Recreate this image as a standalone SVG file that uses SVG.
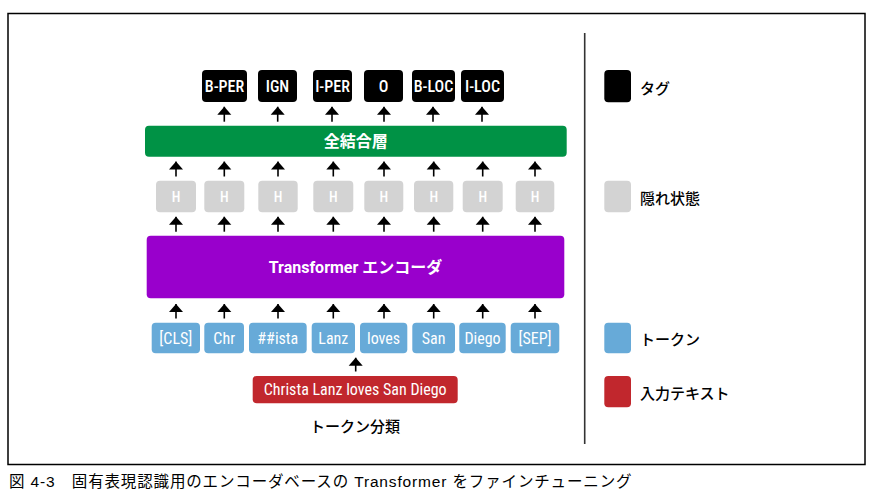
<svg xmlns="http://www.w3.org/2000/svg" width="878" height="504" viewBox="0 0 878 504">
<defs>
<marker id="ah" viewBox="0 0 16 8" refX="8" refY="0" markerWidth="16" markerHeight="8" markerUnits="userSpaceOnUse" orient="0">
<path d="M1,8 L8,0 L15,8 Z" fill="#000"/>
</marker>
<style>
.lbl{font-family:"Liberation Sans Narrow","Roboto Condensed","Roboto","Noto Sans CJK JP",sans-serif;text-anchor:middle;dominant-baseline:central;}
.tag rect{fill:#000;}
.tag text{fill:#fff;font-size:16px;font-weight:500;}
.h rect{fill:#d3d3d3;}
.h text{fill:#fff;font-size:14px;font-weight:500;}
.tok rect{fill:#67aad8;}
.tok text{fill:#fff;font-size:16px;}
.jp{font-family:"Roboto","Noto Sans CJK JP",sans-serif;}
.conn line{stroke:#000;stroke-width:1.6;marker-start:url(#ah);}
.leg text{font-family:"Noto Sans CJK JP",sans-serif;font-size:15px;fill:#000;dominant-baseline:central;font-weight:500;}
</style>
</defs>
<rect x="8" y="13.5" width="857" height="451" fill="none" stroke="#000" stroke-width="1.5"/>
<line x1="584.7" y1="33" x2="584.7" y2="444" stroke="#333" stroke-width="1.6"/>

<g id="tags" class="lbl">
<g id="tag-bper" class="tag"><rect x="202" y="70" width="45" height="32" rx="4"/><text x="224.5" y="86.5">B-PER</text></g>
<g id="tag-ign" class="tag"><rect x="258" y="70" width="39" height="32" rx="4"/><text x="277.5" y="86.5">IGN</text></g>
<g id="tag-iper" class="tag"><rect x="313" y="70" width="39" height="32" rx="4"/><text x="332.5" y="86.5">I-PER</text></g>
<g id="tag-o" class="tag"><rect x="364" y="70" width="39" height="32" rx="4"/><text x="383.5" y="86.5">O</text></g>
<g id="tag-bloc" class="tag"><rect x="412" y="70" width="43" height="32" rx="4"/><text x="433.5" y="86.5">B-LOC</text></g>
<g id="tag-iloc" class="tag"><rect x="461" y="70" width="43" height="32" rx="4"/><text x="482.5" y="86.5">I-LOC</text></g>
</g>

<g id="fc">
<rect x="145" y="125.7" width="421.7" height="31" rx="4" fill="#009245"/>
<text class="jp" x="355.8" y="141.5" fill="#fff" font-size="16" font-weight="bold" text-anchor="middle" dominant-baseline="central">全結合層</text>
</g>

<g id="hidden" class="lbl">
<g id="h1" class="h"><rect x="156" y="180.7" width="40" height="31.6" rx="4"/><text x="176" y="196.5">H</text></g>
<g id="h2" class="h"><rect x="204.3" y="180.7" width="40" height="31.6" rx="4"/><text x="224.3" y="196.5">H</text></g>
<g id="h3" class="h"><rect x="258.3" y="180.7" width="39.4" height="31.6" rx="4"/><text x="278" y="196.5">H</text></g>
<g id="h4" class="h"><rect x="313.3" y="180.7" width="40" height="31.6" rx="4"/><text x="333.3" y="196.5">H</text></g>
<g id="h5" class="h"><rect x="364.3" y="180.7" width="39" height="31.6" rx="4"/><text x="383.8" y="196.5">H</text></g>
<g id="h6" class="h"><rect x="414" y="180.7" width="39.3" height="31.6" rx="4"/><text x="433.7" y="196.5">H</text></g>
<g id="h7" class="h"><rect x="462.7" y="180.7" width="40" height="31.6" rx="4"/><text x="482.7" y="196.5">H</text></g>
<g id="h8" class="h"><rect x="515.7" y="180.7" width="38.6" height="31.6" rx="4"/><text x="535" y="196.5">H</text></g>
</g>

<g id="encoder">
<rect x="146.7" y="235.7" width="417.6" height="62.5" rx="4" fill="#9900cc"/>
<text class="jp" x="355.5" y="267.5" fill="#fff" font-size="16" font-weight="bold" text-anchor="middle" dominant-baseline="central">Transformer エンコーダ</text>
</g>

<g id="tokens" class="lbl">
<g id="t1" class="tok"><rect x="151.7" y="322.7" width="48.3" height="30.6" rx="4"/><text x="175.8" y="338">[CLS]</text></g>
<g id="t2" class="tok"><rect x="204.3" y="322.7" width="39.7" height="30.6" rx="4"/><text x="224.2" y="338">Chr</text></g>
<g id="t3" class="tok"><rect x="249" y="322.7" width="57.7" height="30.6" rx="4"/><text x="277.8" y="338">##ista</text></g>
<g id="t4" class="tok"><rect x="311.7" y="322.7" width="43.3" height="30.6" rx="4"/><text x="333.3" y="338">Lanz</text></g>
<g id="t5" class="tok"><rect x="360" y="322.7" width="47.3" height="30.6" rx="4"/><text x="383.6" y="338">loves</text></g>
<g id="t6" class="tok"><rect x="412.3" y="322.7" width="42.7" height="30.6" rx="4"/><text x="433.6" y="338">San</text></g>
<g id="t7" class="tok"><rect x="459.3" y="322.7" width="46.4" height="30.6" rx="4"/><text x="482.5" y="338">Diego</text></g>
<g id="t8" class="tok"><rect x="510.7" y="322.7" width="48.6" height="30.6" rx="4"/><text x="535" y="338">[SEP]</text></g>
</g>

<g id="input" class="lbl">
<rect x="252.7" y="376" width="205" height="27.3" rx="4" fill="#c1272d"/>
<text x="355.2" y="389.7" fill="#fff" font-size="16">Christa Lanz loves San Diego</text>
</g>

<g id="title">
<text x="355" y="425" font-family="Noto Sans CJK JP,sans-serif" font-size="15" font-weight="500" text-anchor="middle" dominant-baseline="central">トークン分類</text>
</g>

<g id="connectors" class="conn">
<line x1="224.3" y1="106.7" x2="224.3" y2="121.7"/>
<line x1="277.7" y1="106.7" x2="277.7" y2="121.7"/>
<line x1="332" y1="106.7" x2="332" y2="121.7"/>
<line x1="384" y1="106.7" x2="384" y2="121.7"/>
<line x1="433" y1="106.7" x2="433" y2="121.7"/>
<line x1="482" y1="106.7" x2="482" y2="121.7"/>

<line x1="176" y1="161.5" x2="176" y2="176.5"/>
<line x1="224.3" y1="161.5" x2="224.3" y2="176.5"/>
<line x1="278" y1="161.5" x2="278" y2="176.5"/>
<line x1="333.3" y1="161.5" x2="333.3" y2="176.5"/>
<line x1="384" y1="161.5" x2="384" y2="176.5"/>
<line x1="433.7" y1="161.5" x2="433.7" y2="176.5"/>
<line x1="482.7" y1="161.5" x2="482.7" y2="176.5"/>
<line x1="535" y1="161.5" x2="535" y2="176.5"/>

<line x1="176" y1="216.7" x2="176" y2="231.7"/>
<line x1="224.3" y1="216.7" x2="224.3" y2="231.7"/>
<line x1="278" y1="216.7" x2="278" y2="231.7"/>
<line x1="333.3" y1="216.7" x2="333.3" y2="231.7"/>
<line x1="384" y1="216.7" x2="384" y2="231.7"/>
<line x1="433.7" y1="216.7" x2="433.7" y2="231.7"/>
<line x1="482.7" y1="216.7" x2="482.7" y2="231.7"/>
<line x1="535" y1="216.7" x2="535" y2="231.7"/>

<line x1="176" y1="304" x2="176" y2="318.5"/>
<line x1="224.3" y1="304" x2="224.3" y2="318.5"/>
<line x1="278" y1="304" x2="278" y2="318.5"/>
<line x1="333.3" y1="304" x2="333.3" y2="318.5"/>
<line x1="384" y1="304" x2="384" y2="318.5"/>
<line x1="433.7" y1="304" x2="433.7" y2="318.5"/>
<line x1="482.7" y1="304" x2="482.7" y2="318.5"/>
<line x1="535" y1="304" x2="535" y2="318.5"/>

<line x1="355.7" y1="357.7" x2="355.7" y2="371.5"/>
</g>

<g id="legend" class="leg">
<g id="leg-tag"><rect x="604.3" y="70" width="26.7" height="32.3" rx="4" fill="#000"/><text x="640" y="87">タグ</text></g>
<g id="leg-hidden"><rect x="604.3" y="180.7" width="26.7" height="31.6" rx="4" fill="#d3d3d3"/><text x="640" y="197.5">隠れ状態</text></g>
<g id="leg-token"><rect x="604.3" y="322.7" width="26.7" height="30.6" rx="4" fill="#67aad8"/><text x="640" y="338.5">トークン</text></g>
<g id="leg-input"><rect x="604.3" y="376" width="26.7" height="31.3" rx="4" fill="#c1272d"/><text x="640" y="392">入力テキスト</text></g>
</g>

<text x="9" y="487" font-family="Liberation Sans,Noto Sans CJK JP,sans-serif" font-size="15.5" letter-spacing="0.85" fill="#000">図 4-3　固有表現認識用のエンコーダベースの Transformer をファインチューニング</text>
</svg>
